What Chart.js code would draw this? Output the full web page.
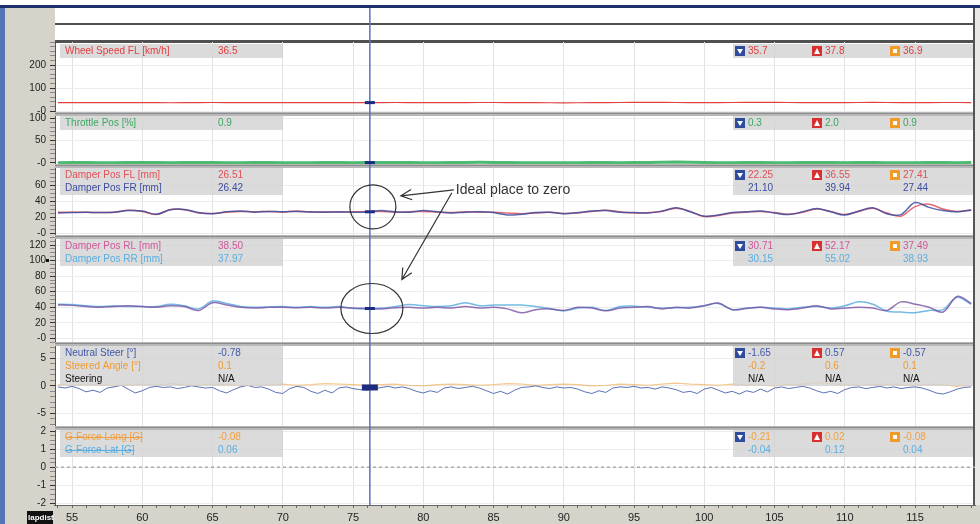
<!DOCTYPE html>
<html>
<head>
<meta charset="utf-8">
<script src="https://cdn.jsdelivr.net/npm/chart.js@4.4.1/dist/chart.umd.min.js"></script>
<style>
  html, body { margin: 0; padding: 0; background: #fff; overflow: hidden; }
  canvas { display: block; }
</style>
</head>
<body>
<canvas id="logger" width="980" height="524"></canvas>
<script>
// distance axis (1 unit steps)
const dist = [54, 55, 56, 57, 58, 59, 60, 61, 62, 63,
              64, 65, 66, 67, 68, 69, 70, 71, 72, 73,
              74, 75, 76, 77, 78, 79, 80, 81, 82, 83,
              84, 85, 86, 87, 88, 89, 90, 91, 92, 93,
              94, 95, 96, 97, 98, 99, 100, 101, 102, 103,
              104, 105, 106, 107, 108, 109, 110, 111, 112, 113,
              114, 115, 116, 117, 118, 119];
const xTickLabels = [55, 60, 65, 70, 75, 80, 85, 90, 95, 100, 105, 110, 115];

const wheelSpeedFL = [36.2, 36.4, 36.5, 36.3, 36.6, 36.8, 36.5, 36.2, 36.0, 36.3,
                      36.7, 37.0, 36.8, 36.5, 36.4, 36.6, 36.3, 36.1, 36.4, 36.6,
                      36.5, 36.5, 36.5, 36.7, 36.9, 36.6, 36.3, 36.2, 36.5, 36.8,
                      37.1, 36.9, 36.6, 36.4, 36.2, 35.9, 35.7, 36.0, 36.4, 36.7,
                      37.0, 37.3, 37.5, 37.2, 36.9, 36.6, 36.4, 36.7, 37.0, 37.4,
                      37.8, 37.5, 37.1, 36.8, 36.5, 36.3, 36.6, 36.9, 37.2, 37.0,
                      36.7, 36.5, 36.8, 37.1, 36.9, 36.6];
const throttlePos = [0.8, 0.9, 1.0, 0.7, 0.6, 0.9, 1.2, 1.0, 0.8, 0.9,
                     1.1, 0.9, 0.7, 0.8, 1.0, 0.9, 0.6, 0.5, 0.8, 1.0,
                     0.9, 0.8, 0.9, 1.1, 1.3, 1.0, 0.8, 0.7, 0.9, 1.2,
                     1.5, 1.2, 0.9, 0.6, 0.4, 0.3, 0.5, 0.8, 1.0, 0.9,
                     0.7, 0.9, 1.2, 1.6, 2.0, 1.5, 1.0, 0.8, 0.6, 0.9,
                     1.1, 0.8, 0.6, 0.9, 1.2, 1.0, 0.7, 0.9, 1.1, 0.8,
                     0.6, 0.8, 1.0, 0.9, 0.7, 0.9];
const damperFL = [26, 26, 26, 25.5, 26, 28.5, 27, 23, 29.5, 29,
                  25, 24.5, 26, 27, 26.5, 27, 26, 27.5, 26, 26.5,
                  26, 26.5, 26.5, 27, 26, 26.5, 27, 26, 25.5, 26.5,
                  26, 26, 25, 24, 25, 26, 24.5, 25, 27, 28.5,
                  26.5, 25, 25.5, 27, 31, 27, 20.5, 22, 25, 26,
                  27, 25.5, 23.5, 26, 30, 27, 23, 27, 31, 25,
                  21, 33, 36, 30, 27, 29];
const damperFR = [25, 25.5, 26, 25.5, 26, 28, 27.5, 23.5, 29, 29.5,
                  25.5, 24, 26.5, 27.5, 26, 27, 26.5, 27, 26.5, 26,
                  26.5, 26, 26.4, 28, 26.5, 26, 28, 26.5, 25, 26,
                  26.5, 25.5, 22.5, 23.5, 25.5, 26, 24, 25.5, 27.5, 28,
                  26, 25.5, 25, 27.5, 31.5, 26.5, 21, 22.5, 25.5, 26.5,
                  27.5, 25, 23, 26.5, 30.5, 26.5, 22.5, 27.5, 31.5, 24,
                  23, 38, 32, 28, 26.5, 28.5];
const damperRL = [43, 42.5, 41, 40, 41, 42, 41, 40, 42, 41,
                  36, 46, 43, 40, 39, 40, 40, 39.5, 40, 39,
                  40, 39, 38.5, 38, 39.5, 40, 39, 40, 39, 41,
                  39, 40, 38, 33, 37, 38, 36, 40, 39, 35.5,
                  39, 40, 41, 38, 40, 39, 42, 45.5, 37, 38.5,
                  40, 38, 37, 39, 42, 38, 39, 40, 39, 36,
                  47, 44, 40, 34, 54, 45];
const damperRR = [44, 43.5, 42, 41, 42, 41, 41, 41, 44, 42,
                  38, 48, 45, 41, 40, 40.5, 41, 40, 41, 40,
                  41, 38.5, 38, 39, 41, 43.5, 42, 41, 42, 46,
                  42, 43, 43, 43, 41, 38.5, 35.5, 39, 40, 36,
                  41, 41.5, 40, 39, 39.5, 40, 42, 45, 37, 39,
                  40, 39, 38, 40, 41, 39, 42, 47, 44, 35,
                  34, 33, 36, 37, 53, 44];
const steeredAngle = [0.2, 0.1, 0.3, 0.2, 0.0, 0.2, 0.3, 0.1, 0.4, 0.2,
                      0.1, 0.3, 0.2, 0.0, 0.1, 0.2, 0.3, 0.1, 0.2, 0.4,
                      0.3, 0.2, 0.1, 0.2, 0.3, 0.1, 0.0, 0.2, 0.3, 0.2,
                      0.1, 0.2, 0.4, 0.3, 0.1, 0.2, 0.3, 0.2, 0.0, 0.1,
                      0.3, 0.2, 0.1, 0.3, 0.5, 0.3, 0.2, 0.1, 0.3, 0.2,
                      0.1, 0.0, 0.2, 0.3, 0.6, 0.4, 0.2, 0.1, 0.2, 0.3,
                      0.2, 0.1, 0.3, 0.2, -0.1, 0.1];

// neutral steer is logged at a finer step
const steerStart = 54;
const steerStep = 0.5;
const neutralSteer = [-0.2, -0.4, -0.1, -0.5, -1.1, -0.8, -1.2, -0.4, -0.2, 0.1,
                      -0.6, -1.3, -0.9, -0.3, -0.1, -0.3, -0.2, -0.5, -0.3, 0.0,
                      -0.2, -0.4, -0.3, -0.9, -1.3, -0.7, -0.2, 0.1, -0.3, -0.2,
                      -0.6, -1.2, -1.4, -0.5, -0.1, -0.3, -1.0, -1.4, -0.8, -1.3,
                      -0.4, -0.2, -0.5, -0.7, -0.8, -0.6, -0.3, -0.1, -0.4, -0.2,
                      -0.5, -1.0, -1.3, -0.9, -1.2, -0.4, -0.2, -0.5, -0.3, -0.1,
                      -0.4, -0.9, -1.4, -1.0, -1.5, -0.8, -0.3, -0.2, 0.0, -0.3,
                      -0.5, -0.2, -0.4, -0.3, -0.6, -1.1, -1.4, -0.9, -1.2, -0.4,
                      -0.2, -0.3, -0.1, -0.4, -0.3, -0.6, -0.2, -0.4, -0.7, -1.2,
                      -1.0, -1.4, -0.6, -0.3, -0.8, -1.3, -1.0, -1.5, -0.9, -1.2,
                      -0.6, -1.1, -0.4, -0.2, -0.5, -0.3, -0.1, -0.4, -0.9, -1.3,
                      -1.0, -1.4, -0.7, -0.3, -0.2, -0.5, -0.3, -0.1, -0.4, -0.2,
                      -0.5, -0.3, -0.2, -0.4, -0.8, -1.3, -1.5, -1.1, -0.6, -0.3,
                      -0.2];

// y tick values and their printed labels, per panel
const speedTicks = [0, 100, 200];
const speedTickLabels = ['-0', '100', '200'];
const throttleTicks = [0, 50, 100];
const throttleTickLabels = ['-0', '50', '100'];
const frontTicks = [0, 20, 40, 60];
const frontTickLabels = ['-0', '20', '40', '60'];
const rearTicks = [0, 20, 40, 60, 80, 100, 120];
const rearTickLabels = ['-0', '20', '40', '60', '80', '100', '120'];
const steerTicks = [-5, 0, 5];
const steerTickLabels = ['-5', '0', '5'];
const gTicks = [-2, -1, 0, 1, 2];
const gTickLabels = ['-2', '-1', '0', '1', '2'];

// channel readouts
const channelPanel = [0, 1, 2, 2, 3, 3, 4, 4, 4, 5, 5];
const channelNames = ['Wheel Speed FL [km/h]', 'Throttle Pos [%]', 'Damper Pos FL [mm]', 'Damper Pos FR [mm]',
                      'Damper Pos RL [mm]', 'Damper Pos RR [mm]', 'Neutral Steer [°]', 'Steered Angle [°]',
                      'Steering', 'G-Force Long [G]', 'G-Force Lat [G]'];
const channelCursor = ['36.5', '0.9', '26.51', '26.42', '38.50', '37.97', '-0.78', '0.1', 'N/A', '-0.08', '0.06'];
const channelMin = ['35.7', '0.3', '22.25', '21.10', '30.71', '30.15', '-1.65', '-0.2', 'N/A', '-0.21', '-0.04'];
const channelMax = ['37.8', '2.0', '36.55', '39.94', '52.17', '55.02', '0.57', '0.6', 'N/A', '0.02', '0.12'];
const channelAvg = ['36.9', '0.9', '27.41', '27.44', '37.49', '38.93', '-0.57', '0.1', 'N/A', '-0.08', '0.04'];
const channelHidden = [false, false, false, false, false, false, false, false, false, true, true];
const channelColors = ['#e04040', '#3aa860', '#e05058', '#3c4ca0', '#d0589a', '#5aaee2',
                       '#4058a8', '#f09a30', '#111111', '#f0a040', '#5aaee2'];

const cursorPos = 76.2;
const cursorValues = [36.5, 0.9, 26.51, 38.50, -0.3];

const FONT = '"Liberation Sans", Arial, sans-serif';

// panel geometry: stacked y axes, top to bottom
const panels = [
    { id: 'ySpeed', h: 72, min: -13, max: 300, minor: 20, ticks: speedTicks, labels: speedTickLabels },
    { id: 'yThrottle', h: 52, min: -6.7, max: 108.9, minor: 10, ticks: throttleTicks, labels: throttleTickLabels },
    { id: 'yFront', h: 71, min: -5, max: 83.75, minor: 5, ticks: frontTicks, labels: frontTickLabels },
    { id: 'yRear', h: 107, min: -7.1, max: 130.3, minor: 5, ticks: rearTicks, labels: rearTickLabels },
    { id: 'ySteer', h: 84, min: -7.67, max: 7.6, minor: 1, ticks: steerTicks, labels: steerTickLabels },
    { id: 'yG', h: 77, min: -2.08, max: 2.17, minor: 0.25, ticks: gTicks, labels: gTickLabels }
];

const isMajor = (list, v) => list.some(t => Math.abs(t - v) < 1e-6);

function panelAxis(p, order) {
    return {
        type: 'linear',
        position: 'left',
        stack: 'panels',
        stackWeight: p.h,
        weight: 10 - order,
        min: p.min,
        max: p.max,
        afterBuildTicks: axis => {
            const t = [];
            const start = Math.ceil(p.min / p.minor) * p.minor;
            for (let v = start; v <= p.max + 1e-9; v += p.minor) {
                t.push({ value: +v.toFixed(4) });
            }
            axis.ticks = t;
        },
        afterFit: axis => { axis.width = 52; },
        ticks: {
            autoSkip: false,
            padding: 4,
            color: '#222',
            font: { family: FONT, size: 10 },
            callback: v => {
                const k = p.ticks.findIndex(t => Math.abs(t - v) < 1e-6);
                return k < 0 ? '' : p.labels[k];
            }
        },
        grid: {
            color: c => (c.tick && isMajor(p.ticks, c.tick.value)) ? '#ececec' : 'rgba(0,0,0,0)',
            tickColor: c => (c.tick && isMajor(p.ticks, c.tick.value)) ? '#333' : '#888',
            tickLength: 5
        },
        border: { color: '#555' }
    };
}

function series(xs, ys) {
    return ys.map((y, i) => ({ x: xs[i], y }));
}
const steerDist = neutralSteer.map((_, i) => steerStart + i * steerStep);

function line(label, data, axis, color, width, extra) {
    return Object.assign({
        label, data, yAxisID: axis,
        borderColor: color, borderWidth: width,
        pointRadius: 0, fill: false, tension: 0.35
    }, extra || {});
}

const scales = {
    x: {
        type: 'linear',
        position: 'bottom',
        min: 53.79,
        max: 119.27,
        afterBuildTicks: axis => {
            const t = [];
            for (let v = 54; v <= 119; v++) t.push({ value: v });
            axis.ticks = t;
        },
        afterFit: axis => { axis.height = 19; },
        ticks: {
            autoSkip: false, maxRotation: 0, padding: 3,
            color: '#222',
            font: { family: FONT, size: 11 },
            callback: v => xTickLabels.includes(v) ? String(v) : ''
        },
        grid: {
            color: c => (c.tick && c.tick.value % 5 === 0) ? '#e2e2e2' : 'rgba(0,0,0,0)',
            tickColor: '#666',
            tickLength: 3
        },
        border: { color: '#666' }
    }
};
panels.forEach((p, i) => { scales[p.id] = panelAxis(p, i); });

// background, frame and the empty top band
const framePlugin = {
    id: 'frame',
    beforeDraw(chart) {
        const { ctx, chartArea: a } = chart;
        ctx.save();
        ctx.fillStyle = '#ffffff';
        ctx.fillRect(0, 0, 980, 524);
        // left and bottom gray strips
        ctx.fillStyle = '#d6d3cb';
        ctx.fillRect(0, 8, a.left, 524);
        ctx.fillRect(0, a.bottom, 980, 524 - a.bottom);
        ctx.fillStyle = '#e9e8e4';
        ctx.fillRect(a.right, 8, 980 - a.right, a.bottom - 8);
        // blue window border
        ctx.fillStyle = '#5574b4';
        ctx.fillRect(0, 5, 5, 519);
        ctx.fillStyle = '#1f2f6a';
        ctx.fillRect(0, 5, 980, 3);
        // top band lines
        ctx.fillStyle = '#505050';
        ctx.fillRect(a.left, 23, a.right - a.left, 2);
        ctx.fillRect(a.left, 40, a.right - a.left, 3);
        ctx.restore();
    },
    afterDatasetsDraw(chart) {
        const { ctx, chartArea: a, scales: s } = chart;
        ctx.save();

        // panel separators
        panels.slice(1).forEach(p => {
            const y = s[p.id].top;
            ctx.fillStyle = '#b8b8b8';
            ctx.fillRect(a.left, y - 2, a.right - a.left, 4);
            ctx.fillStyle = '#8c8c8c';
            ctx.fillRect(a.left, y - 1, a.right - a.left, 1);
        });
        ctx.fillStyle = '#555';
        ctx.fillRect(a.right - 2, 8, 2, a.bottom - 8);

        // G-force zero line (hidden channels)
        const gz = s.yG.getPixelForValue(0);
        ctx.strokeStyle = '#aaaaaa';
        ctx.lineWidth = 1.5;
        ctx.setLineDash([3, 3]);
        ctx.beginPath();
        ctx.moveTo(a.left, gz);
        ctx.lineTo(a.right, gz);
        ctx.stroke();
        ctx.setLineDash([]);

        // readout boxes
        ctx.font = '10px ' + FONT;
        ctx.textBaseline = 'middle';
        const cols = [748, 825, 903];
        panels.forEach((p, pi) => {
            const rows = channelPanel.map((c, i) => c === pi ? i : -1).filter(i => i >= 0);
            const top = s[p.id].top + 2;
            const h = rows.length * 13 + 1;
            ctx.fillStyle = 'rgba(210,210,210,0.8)';
            ctx.fillRect(a.left + 5, top, 223, h);
            ctx.fillRect(733, top, a.right - 735, h);
            rows.forEach((ci, r) => {
                const y = top + 7 + r * 13;
                ctx.fillStyle = channelColors[ci];
                ctx.fillText(channelNames[ci], a.left + 10, y);
                ctx.fillText(channelCursor[ci], a.left + 163, y);
                if (channelHidden[ci]) {
                    const w = ctx.measureText(channelNames[ci]).width;
                    ctx.fillRect(a.left + 10, y, w, 1);
                }
                [channelMin[ci], channelMax[ci], channelAvg[ci]].forEach((txt, k) => {
                    ctx.fillText(txt, cols[k], y);
                });
                if (r === 0) {
                    drawIcon(ctx, 735, y - 5, '#2f4c9c', 'down');
                    drawIcon(ctx, 812, y - 5, '#d63030', 'up');
                    drawIcon(ctx, 890, y - 5, '#f09a28', 'avg');
                }
            });
        });
        // small row marker in the rear damper panel
        ctx.fillStyle = '#111';
        ctx.fillRect(46, s.yRear.top + 22, 3, 3);

        // cursor
        const cx = s.x.getPixelForValue(cursorPos);
        ctx.strokeStyle = '#5a70c0';
        ctx.lineWidth = 1.5;
        ctx.beginPath();
        ctx.moveTo(cx, 8);
        ctx.lineTo(cx, a.bottom);
        ctx.stroke();
        ctx.fillStyle = '#1c2c80';
        panels.slice(0, 5).forEach((p, i) => {
            const y = s[p.id].getPixelForValue(cursorValues[i]);
            if (i === 4) ctx.fillRect(cx - 8, y - 3, 16, 6);
            else ctx.fillRect(cx - 5, y - 1.5, 10, 3);
        });

        // annotation
        const yF = s.yFront.getPixelForValue(cursorValues[2]);
        const yR = s.yRear.getPixelForValue(cursorValues[3]);
        ctx.strokeStyle = '#333';
        ctx.lineWidth = 1.2;
        ctx.beginPath();
        ctx.ellipse(cx + 3, yF - 5, 23, 22, 0, 0, Math.PI * 2);
        ctx.stroke();
        ctx.beginPath();
        ctx.ellipse(cx + 2, yR, 31, 25, 0, 0, Math.PI * 2);
        ctx.stroke();
        arrow(ctx, cx + 84, yF - 22, cx + 31, yF - 16);
        arrow(ctx, cx + 82, yF - 19, cx + 32, yR - 29);
        ctx.fillStyle = '#333';
        ctx.font = '14px ' + FONT;
        ctx.textBaseline = 'middle';
        ctx.fillText('Ideal place to zero', cx + 86, yF - 22);

        // distance unit badge
        ctx.fillStyle = '#111';
        ctx.fillRect(27, a.bottom + 6, 26, 13);
        ctx.fillStyle = '#fff';
        ctx.font = 'bold 8px ' + FONT;
        ctx.fillText('lapdist', 28, a.bottom + 13);
        ctx.restore();
    }
};

function drawIcon(ctx, x, y, color, kind) {
    ctx.fillStyle = color;
    ctx.fillRect(x, y, 10, 10);
    ctx.fillStyle = '#fff';
    ctx.beginPath();
    if (kind === 'down') {
        ctx.moveTo(x + 2, y + 3); ctx.lineTo(x + 8, y + 3); ctx.lineTo(x + 5, y + 8);
        ctx.fill();
    } else if (kind === 'up') {
        ctx.moveTo(x + 2, y + 8); ctx.lineTo(x + 8, y + 8); ctx.lineTo(x + 5, y + 2);
        ctx.fill();
    } else {
        ctx.fillRect(x + 3, y + 3, 4, 4);
    }
}

function arrow(ctx, x1, y1, x2, y2) {
    ctx.beginPath();
    ctx.moveTo(x1, y1);
    ctx.lineTo(x2, y2);
    const ang = Math.atan2(y1 - y2, x1 - x2);
    const len = 12;
    ctx.moveTo(x2 + len * Math.cos(ang + 0.45), y2 + len * Math.sin(ang + 0.45));
    ctx.lineTo(x2, y2);
    ctx.lineTo(x2 + len * Math.cos(ang - 0.45), y2 + len * Math.sin(ang - 0.45));
    ctx.stroke();
}

new Chart(document.getElementById('logger'), {
    type: 'line',
    data: {
        datasets: [
            line('Wheel Speed FL', series(dist, wheelSpeedFL), 'ySpeed', '#e04040', 1.2, { tension: 0 }),
            line('Throttle Pos', series(dist, throttlePos), 'yThrottle', '#4cba70', 3, { tension: 0 }),
            line('Damper Pos FR', series(dist, damperFR), 'yFront', 'rgba(60,76,160,0.85)', 1.5),
            line('Damper Pos FL', series(dist, damperFL), 'yFront', 'rgba(224,80,88,0.85)', 1.5),
            line('Damper Pos RL', series(dist, damperRL), 'yRear', 'rgba(120,80,160,0.8)', 1.5),
            line('Damper Pos RR', series(dist, damperRR), 'yRear', 'rgba(90,174,226,0.85)', 1.5),
            line('Neutral Steer', series(steerDist, neutralSteer), 'ySteer', 'rgba(64,88,168,0.85)', 1, { tension: 0 }),
            line('Steered Angle', series(dist, steeredAngle), 'ySteer', 'rgba(240,154,48,0.55)', 1.2, { tension: 0 })
        ]
    },
    options: {
        responsive: false,
        animation: false,
        events: [],
        layout: { padding: { left: 3, top: 42, right: 5, bottom: 0 } },
        plugins: { legend: { display: false }, tooltip: { enabled: false } },
        scales
    },
    plugins: [framePlugin]
});
</script>
</body>
</html>
